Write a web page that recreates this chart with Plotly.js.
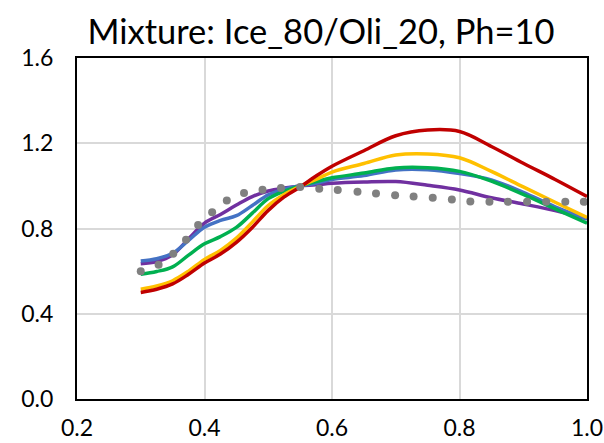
<!DOCTYPE html>
<html>
<head>
<meta charset="utf-8">
<script src="https://cdn.plot.ly/plotly-3.0.1.min.js"></script>
<style>html,body{margin:0;padding:0;background:#fff;}#chart{width:604px;height:443px;}</style>
</head>
<body>
<div id="chart"></div>
<script>
var xVals = [0.30,0.325,0.35,0.375,0.40,0.425,0.45,0.475,0.50,0.525,0.55,0.575,0.60,0.65,0.70,0.75,0.80,0.85,0.90,0.95,1.00];
var redVals    = [0.500,0.515,0.540,0.585,0.638,0.680,0.735,0.805,0.885,0.948,0.995,1.046,1.092,1.165,1.235,1.262,1.255,1.185,1.106,1.030,0.950];
var yellowVals = [0.515,0.530,0.555,0.600,0.655,0.697,0.755,0.830,0.908,0.960,0.998,1.030,1.065,1.105,1.145,1.150,1.132,1.068,0.995,0.923,0.852];
var greenVals  = [0.585,0.598,0.620,0.675,0.728,0.762,0.805,0.872,0.940,0.975,1.000,1.020,1.038,1.060,1.084,1.085,1.068,1.022,0.960,0.892,0.825];
var blueVals   = [0.647,0.658,0.684,0.744,0.806,0.838,0.860,0.908,0.958,0.985,1.000,1.012,1.030,1.048,1.075,1.076,1.058,1.028,0.970,0.902,0.845];
var purpleVals = [0.635,0.645,0.677,0.752,0.825,0.866,0.910,0.950,0.976,0.990,1.000,1.005,1.012,1.018,1.020,1.003,0.981,0.944,0.915,0.884,0.845];
var grayX = [0.300,0.328,0.351,0.371,0.390,0.412,0.435,0.462,0.491,0.520,0.550,0.580,0.609,0.640,0.669,0.699,0.728,0.758,0.788,0.817,0.847,0.876,0.906,0.936,0.966,0.995];
var grayY = [0.599,0.630,0.682,0.747,0.816,0.876,0.931,0.967,0.982,0.990,0.995,0.987,0.981,0.973,0.964,0.956,0.950,0.944,0.936,0.927,0.925,0.925,0.925,0.925,0.925,0.925];
var xTicks = [0.2,0.4,0.6,0.8,1.0];
var xTickText = ['0.2','0.4','0.6','0.8','1.0'];
var yTicks = [0.0,0.4,0.8,1.2,1.6];
var yTickText = ['0.0','0.4','0.8','1.2','1.6'];
var titleText = 'Mixture: Ice_80/Oli_20, Ph=10';

function lineTrace(y, color) {
  return {x: xVals, y: y, mode: 'lines', type: 'scatter',
          line: {color: color, width: 3.5, shape: 'spline', smoothing: 1}, hoverinfo: 'skip'};
}
var data = [
  lineTrace(purpleVals, '#7030A0'),
  lineTrace(blueVals, '#4472C4'),
  lineTrace(greenVals, '#00B050'),
  lineTrace(yellowVals, '#FFC000'),
  lineTrace(redVals, '#C00000'),
  {x: grayX, y: grayY, mode: 'markers', type: 'scatter',
   marker: {color: '#808080', size: 8, line: {width: 0}}, hoverinfo: 'skip'}
];
var fontFam = 'Lato, "Open Sans", sans-serif';
var layout = {
  width: 604, height: 443,
  margin: {l: 77, r: 17, t: 58, b: 44},
  paper_bgcolor: '#ffffff', plot_bgcolor: '#ffffff',
  showlegend: false,
  title: {text: titleText, font: {family: fontFam, size: 34.5, color: '#000'},
          xref: 'container', x: 321/604, xanchor: 'center',
          yref: 'container', y: 1 - 32/443, yanchor: 'middle'},
  xaxis: {range: [0.2, 1.0], tickvals: xTicks, ticktext: xTickText,
          showgrid: true, gridcolor: '#d9d9d9', gridwidth: 2,
          showline: true, linecolor: '#000', linewidth: 2, mirror: true,
          ticks: '', ticklabelstandoff: 7, zeroline: false,
          tickfont: {family: fontFam, size: 23, color: '#000'}},
  yaxis: {range: [0, 1.6], tickvals: yTicks, ticktext: yTickText,
          showgrid: true, gridcolor: '#d9d9d9', gridwidth: 2,
          showline: true, linecolor: '#000', linewidth: 2, mirror: true,
          ticks: '', ticklabelstandoff: 17, zeroline: false,
          tickfont: {family: fontFam, size: 23, color: '#000'}}
};
Plotly.newPlot('chart', data, layout, {staticPlot: true, displayModeBar: false});
</script>
</body>
</html>
